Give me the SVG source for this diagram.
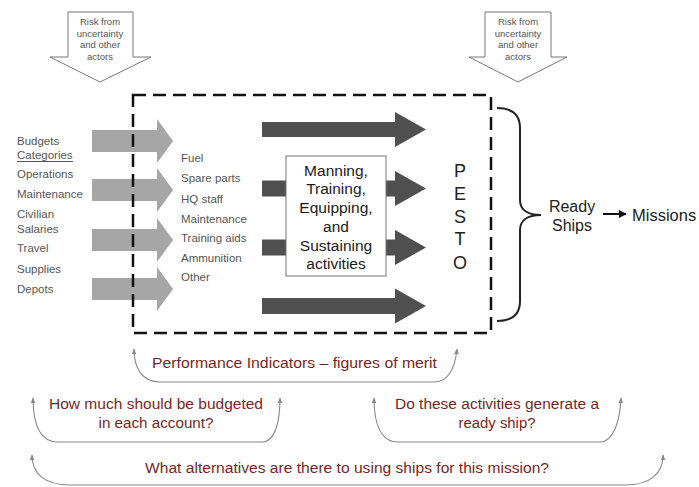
<svg xmlns="http://www.w3.org/2000/svg" width="699" height="487" viewBox="0 0 699 487">
<defs>
<style>
.risk{fill:#fff;stroke:#777;stroke-width:1}
.rt{font-family:"Liberation Sans",Arial,sans-serif;font-size:9.5px;fill:#555;text-anchor:middle}
.lt{font-family:"Liberation Sans",Arial,sans-serif;font-size:11.5px;fill:#555}
.la{fill:#a6a6a6}
.da{fill:#505050}
.bt{font-family:"Liberation Sans",Arial,sans-serif;font-size:15.5px;fill:#1a1a1a;text-anchor:middle}
.pe{font-family:"Liberation Sans",Arial,sans-serif;font-size:18px;fill:#222;text-anchor:middle}
.rs{font-family:"Liberation Sans",Arial,sans-serif;font-size:16px;fill:#222}
.q{font-family:"Liberation Sans",Arial,sans-serif;font-size:15.5px;fill:#7a1f24;text-anchor:middle}
.cv{fill:none;stroke:#888;stroke-width:1.1;marker-start:url(#ga);marker-end:url(#ga)}
</style>
<marker id="ga" viewBox="0 0 10 10" refX="9" refY="5" markerWidth="6" markerHeight="6" markerUnits="userSpaceOnUse" orient="auto-start-reverse">
<path d="M0,1 L10,5 L0,9 Z" fill="#888"/>
</marker>
<marker id="ba" viewBox="0 0 10 10" refX="9" refY="5" markerWidth="8" markerHeight="8" markerUnits="userSpaceOnUse" orient="auto">
<path d="M0,0 L10,5 L0,10 Z" fill="#111"/>
</marker>
</defs>

<g id="risk-left">
<polygon class="risk" points="68,12 133,12 133,57 151,57 100,82 50,57 68,57"/>
<text class="rt" x="100" y="25">Risk from</text>
<text class="rt" x="100" y="36.5">uncertainty</text>
<text class="rt" x="100" y="48">and other</text>
<text class="rt" x="100" y="59.5">actors</text>
</g>
<g id="risk-right">
<polygon class="risk" points="485,12 551,12 551,57 567,57 518,82 469,57 485,57"/>
<text class="rt" x="518" y="25">Risk from</text>
<text class="rt" x="518" y="36.5">uncertainty</text>
<text class="rt" x="518" y="48">and other</text>
<text class="rt" x="518" y="59.5">actors</text>
</g>

<g id="budget-categories">
<text class="lt" x="17" y="145">Budgets</text>
<text class="lt" x="17" y="159">Categories</text>
<line x1="17" y1="161.5" x2="73" y2="161.5" stroke="#555" stroke-width="1"/>
<text class="lt" x="17" y="178">Operations</text>
<text class="lt" x="17" y="198">Maintenance</text>
<text class="lt" x="17" y="218">Civilian</text>
<text class="lt" x="17" y="233">Salaries</text>
<text class="lt" x="17" y="252">Travel</text>
<text class="lt" x="17" y="273">Supplies</text>
<text class="lt" x="17" y="293">Depots</text>
</g>

<g id="budget-arrows">
<polygon class="la" points="92,130 157,130 157,119 173,141 157,163 157,152 92,152"/>
<polygon class="la" points="92,179 157,179 157,168 173,190 157,212 157,201 92,201"/>
<polygon class="la" points="92,229 157,229 157,218 173,240 157,262 157,251 92,251"/>
<polygon class="la" points="92,278 157,278 157,267 173,289 157,311 157,300 92,300"/>
</g>

<g id="resources">
<text class="lt" x="181" y="162">Fuel</text>
<text class="lt" x="181" y="182">Spare parts</text>
<text class="lt" x="181" y="203">HQ staff</text>
<text class="lt" x="181" y="223">Maintenance</text>
<text class="lt" x="181" y="242">Training aids</text>
<text class="lt" x="181" y="262">Ammunition</text>
<text class="lt" x="181" y="281">Other</text>
</g>

<g id="activity-arrows">
<polygon class="da" points="262,122 395,122 395,112 426,129.5 395,147 395,137 262,137"/>
<polygon class="da" points="262,180.5 395,180.5 395,171 426,188.5 395,206 395,196.5 262,196.5"/>
<polygon class="da" points="262,239.5 395,239.5 395,230 426,247.5 395,265 395,255.5 262,255.5"/>
<polygon class="da" points="262,298 395,298 395,288.5 426,306 395,323.5 395,314 262,314"/>
</g>

<g id="activities">
<rect x="286" y="156" width="100" height="120" fill="#fff" stroke="#777" stroke-width="1"/>
<text class="bt" x="336" y="175.5">Manning,</text>
<text class="bt" x="336" y="194">Training,</text>
<text class="bt" x="336" y="212.5">Equipping,</text>
<text class="bt" x="336" y="231.5">and</text>
<text class="bt" x="336" y="250.5">Sustaining</text>
<text class="bt" x="336" y="268.5">activities</text>
</g>

<g id="pesto">
<text class="pe" x="460" y="176.5">P</text>
<text class="pe" x="460" y="199.5">E</text>
<text class="pe" x="460" y="223">S</text>
<text class="pe" x="460" y="245">T</text>
<text class="pe" x="460" y="269">O</text>
</g>

<g id="boundary">
<rect x="133" y="95" width="358" height="238" fill="none" stroke="#111" stroke-width="2.5" stroke-dasharray="13 7"/>
</g>

<g id="ready-ships">
<text class="rs" x="572" y="211.5" text-anchor="middle">Ready</text>
<text class="rs" x="572" y="230.5" text-anchor="middle">Ships</text>
</g>
<g id="missions">
<text class="rs" x="632" y="221" style="font-size:16.5px">Missions</text>
</g>

<g id="connectors">
<path d="M497,108 C512,108 520,114 520,128 L520,200 C520,210 528,215 541,215 C528,215 520,220 520,230 L520,301 C520,315 512,321 497,321" fill="none" stroke="#222" stroke-width="2"/>
<line x1="603" y1="214" x2="626" y2="214" stroke="#111" stroke-width="2" marker-end="url(#ba)"/>
<path class="cv" d="M134,349 C134,368 142,382 160,382 L434,382 C448,382 455,368 457,349"/>
<path class="cv" d="M33,398 C33,422 38,442 58,442 L262,442 C275,442 280,422 280,398"/>
<path class="cv" d="M374,398 C374,422 380,442 398,442 L600,442 C613,442 620,422 621,398"/>
<path class="cv" d="M32,455 C32,474 45,485 70,485 L625,485 C650,485 663,474 663,455"/>
</g>

<g id="questions">
<text class="q" x="294.5" y="367.5" textLength="285" lengthAdjust="spacingAndGlyphs">Performance Indicators – figures of merit</text>
<text class="q" x="156" y="408.5" textLength="214" lengthAdjust="spacingAndGlyphs">How much should be budgeted</text>
<text class="q" x="156" y="427.5" textLength="115" lengthAdjust="spacingAndGlyphs">in each account?</text>
<text class="q" x="497" y="408.5" textLength="204" lengthAdjust="spacingAndGlyphs">Do these activities generate a</text>
<text class="q" x="497" y="427.5" textLength="77" lengthAdjust="spacingAndGlyphs">ready ship?</text>
<text class="q" x="347" y="472.5" textLength="404" lengthAdjust="spacingAndGlyphs">What alternatives are there to using ships for this mission?</text>
</g>
</svg>
